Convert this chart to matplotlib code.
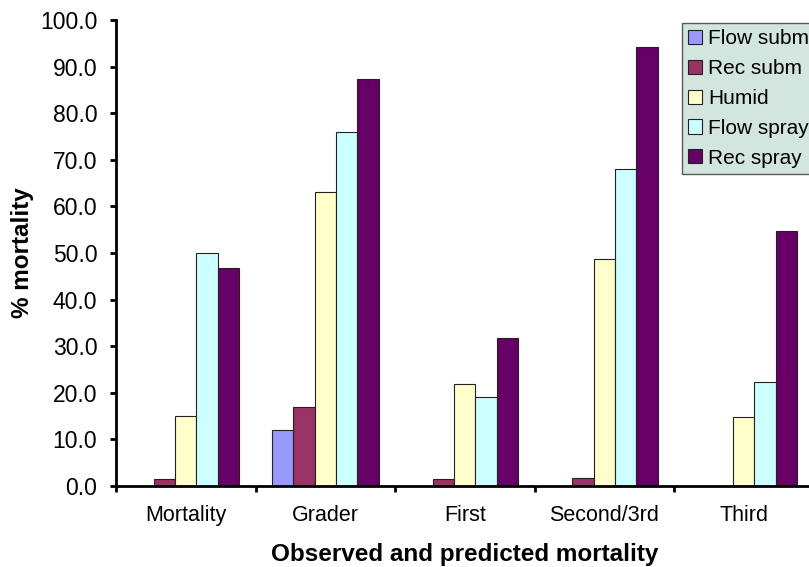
import numpy as np
import matplotlib
matplotlib.use("Agg")
import matplotlib.pyplot as plt

plt.rcParams['font.family'] = ['Liberation Sans', 'DejaVu Sans']

categories = ["Mortality", "Grader", "First", "Second/3rd", "Third"]
series = ["Flow subm", "Rec subm", "Humid", "Flow spray", "Rec spray"]
flow_subm = [0.0, 12.0, 0.0, 0.0, 0.0]
rec_subm = [1.5, 16.9, 1.4, 1.8, 0.0]
humid = [15.1, 63.0, 21.8, 48.8, 14.7]
flow_spray = [50.0, 76.0, 19.0, 68.1, 22.4]
rec_spray = [46.7, 87.3, 31.7, 94.3, 54.7]
colors = ["#9999FF", "#993366", "#FFFFCC", "#CCFFFF", "#660066"]

data = [flow_subm, rec_subm, humid, flow_spray, rec_spray]

fig = plt.figure(figsize=(8.09, 5.67), dpi=100)
# plot area runs past the right edge of the picture, as in the original
ax = fig.add_axes([116/809, 81/567, 697.5/809, 466/567])

x = np.arange(len(categories))
w = 0.153
handles = []
for i, (vals, name, c) in enumerate(zip(data, series, colors)):
    b = ax.bar(x + (i - 2) * w, vals, w, color=c, edgecolor="#222222",
               linewidth=0.8, label=name)
    handles.append(b)

ax.set_xlim(-0.5, len(categories) - 0.5)
ax.set_ylim(0, 100)
yt = np.arange(0, 101, 10)
ax.set_yticks(yt)
ax.set_yticklabels([f"{v:.1f}" for v in yt], fontsize=16.5)
ax.set_xticks(np.arange(-0.5, len(categories), 1.0))
ax.set_xticklabels([])
ax.set_xticks(x, minor=True)
ax.set_xticklabels(categories, minor=True, fontsize=15.5)
ax.tick_params(axis="x", which="minor", length=0, pad=14)
ax.tick_params(axis="x", which="major", length=4.5, width=2)
ax.tick_params(axis="y", length=4.5, width=2, pad=9)
for s in ["top", "right"]:
    ax.spines[s].set_visible(False)
for s in ["left", "bottom"]:
    ax.spines[s].set_linewidth(2)

fig.text(22/809, 1 - 253/567, "% mortality", rotation=90, fontsize=17.5,
         fontweight="bold", ha="center", va="center")
fig.text(465/809, 1 - 554/567, "Observed and predicted mortality",
         fontsize=17.5, fontweight="bold", ha="center", va="center")

leg = fig.legend(handles=handles, loc="upper left",
                 bbox_to_anchor=(682/809, 1 - 23/567), fontsize=15,
                 frameon=True, fancybox=False, facecolor="#C9DFD7",
                 edgecolor="#333333", handlelength=0.67, handleheight=0.67,
                 handletextpad=0.27, labelspacing=0.52, borderpad=0.3,
                 borderaxespad=0)
leg.get_frame().set_linewidth(1)

fig.savefig("out.png", dpi=100)
